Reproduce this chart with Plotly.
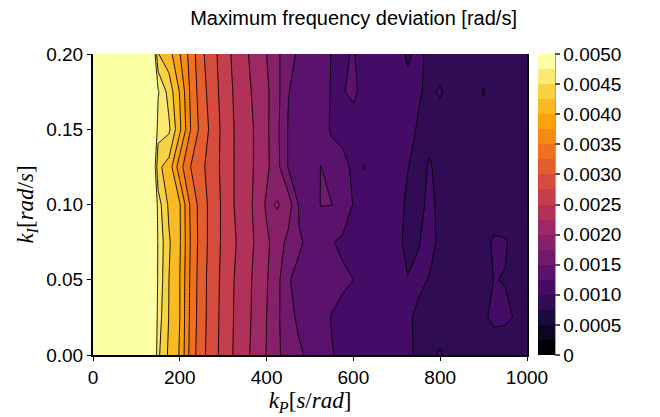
import plotly.graph_objects as go
from plotly.colors import sample_colorscale

# ---- data (values in units of 1e-5 rad/s) ----
UNIT = 1e-5
k_p = [25 * i for i in range(41)]          # 0 ... 1000 s/rad
k_i = [0.0, 0.025, 0.05, 0.075, 0.1, 0.125, 0.15, 0.175, 0.2]   # rad/s

left_cols = [1500, 1300, 1100, 950, 800]    # k_p = 0..100 (off scale, > 0.005)

row_000 = left_cols + [600, 455, 420, 398, 340, 308, 286, 266, 248, 232, 216, 199, 180, 162, 153, 146, 135, 126, 121, 118,
                       115, 111, 108, 105, 102, 98, 98, 101, 96, 94, 93, 93, 92, 92, 92, 92]
row_025 = left_cols + [620, 462, 424, 400, 343, 310, 287, 267, 249, 234, 218, 200, 180, 156, 146, 140, 132, 124, 120, 117,
                       114, 110, 107, 104, 101.5, 98, 97, 96, 94, 93, 95, 98, 103, 102, 99, 95]
row_050 = left_cols + [630, 468, 425, 400, 345, 310, 288, 268, 250, 235, 219, 202, 182, 151, 146, 141, 137, 133, 128, 125,
                       120, 114, 110, 105, 100.5, 102, 99.5, 97, 95, 94, 95, 97, 100.3, 99.5, 96, 93]
row_075 = left_cols + [640, 470, 428, 403, 348, 312, 290, 270, 253, 238, 222, 205, 187, 168, 152, 146, 140, 126, 122, 119,
                       116, 112, 108, 104, 96, 99.5, 103, 98, 95, 93, 94, 96, 102, 101, 96, 94]
row_100 = left_cols + [640, 462, 420, 402, 345, 312, 290, 270, 250, 235, 220, 196, 202, 188, 147, 142, 150.5, 150.5, 138, 124,
                       118, 114, 110, 106, 97, 96, 103, 97, 94, 92, 91, 90, 92, 91, 90, 89]
row_125 = left_cols + [600, 430, 415, 360, 325, 305, 288, 268, 250, 236, 222, 206, 182, 148, 141, 138, 150.5, 136, 130, 122,
                       125.5, 116, 112, 108, 100.5, 96, 101, 97, 95, 93, 92, 91, 91, 90, 90, 89]
row_150 = left_cols + [620, 462, 455, 405, 350, 315, 292, 268, 250, 236, 222, 205, 180, 148, 141, 138, 135, 122, 120, 118,
                       116, 113, 110, 106, 103, 99, 97, 95, 94, 93, 92, 92, 91, 91, 90, 90]
row_175 = left_cols + [600, 478, 440, 398, 345, 310, 288, 265, 248, 232, 220, 205, 182, 151, 140, 138, 136, 123, 124, 128,
                       120, 115, 112, 108, 104, 101, 98, 101, 95, 93, 92, 101, 92, 91, 90, 90]
row_200 = left_cols + [600, 426, 410, 376, 340, 305, 285, 262, 245, 230, 215, 200, 180, 158, 146, 140, 137, 124, 123, 126,
                       118, 114, 112, 106, 98, 103, 97, 95, 93, 92, 91, 91, 90, 90, 90, 89]

rows = [row_000, row_025, row_050, row_075, row_100, row_125, row_150, row_175, row_200]
z = [[v * UNIT for v in r] for r in rows]

# ---- levels and colours ----
LEVEL_STEP = 0.00025
Z_MAX = 0.005
N_BANDS = 20
band_colors = sample_colorscale("Inferno", [k / (N_BANDS - 1) for k in range(N_BANDS)])

# colourscale used by the contour fill (band k sampled at k/19)
contour_scale = []
for k, c in enumerate(band_colors):
    lo = max(0.0, (k - 0.5) / (N_BANDS - 1))
    hi = min(1.0, (k + 0.5) / (N_BANDS - 1))
    contour_scale += [[lo, c], [hi, c]]

# stepwise colourscale for the colourbar spanning 0 .. 0.005
bar_scale = []
for k, c in enumerate(band_colors):
    bar_scale += [[k / N_BANDS, c], [(k + 1) / N_BANDS, c]]

cb_ticks = [0.0005 * i for i in range(11)]
cb_text = ["0"] + ["%.4f" % t for t in cb_ticks[1:]]

FONT = "Liberation Sans, Arial, sans-serif"
SERIF = "Liberation Serif, DejaVu Serif, serif"
tick_font = dict(family=FONT, size=19, color="black")

PLOT_W = 434
CB_X = 1.025
CB_T = 17

fig = go.Figure()
fig.add_trace(go.Contour(
    x=k_p, y=k_i, z=z,
    colorscale=contour_scale,
    contours=dict(start=LEVEL_STEP, end=Z_MAX - LEVEL_STEP, size=LEVEL_STEP,
                  coloring="fill", showlines=True),
    line=dict(color="black", width=0.9, smoothing=0),
    showscale=False,
))
# colourbar carrier (point outside the visible range)
fig.add_trace(go.Scatter(
    x=[-500], y=[-1], mode="markers", showlegend=False, hoverinfo="skip",
    marker=dict(color=[0], cmin=0, cmax=Z_MAX, colorscale=bar_scale, showscale=True,
                colorbar=dict(x=CB_X, xanchor="left", xref="paper", thickness=CB_T, xpad=0, ypad=0,
                              len=1.0, lenmode="fraction", y=0.5, yanchor="middle", yref="paper",
                              outlinewidth=0, tickvals=cb_ticks, ticktext=cb_text,
                              ticks="outside", ticklen=5, tickcolor="#555", tickwidth=1.5,
                              tickfont=tick_font)),
))

fig.add_shape(type="line", xref="paper", yref="paper", x0=CB_X + CB_T / PLOT_W, x1=CB_X + CB_T / PLOT_W,
              y0=0, y1=1, line=dict(color="#666", width=1.5))

fig.update_layout(
    width=652, height=409,
    margin=dict(l=85, r=133, t=46, b=62),
    paper_bgcolor="white", plot_bgcolor="white",
    showlegend=False,
    title=dict(text="Maximum frequency deviation [rad/s]", x=0.53, xref="container", xanchor="center",
               y=0.975, yref="container", yanchor="middle",
               font=dict(family=FONT, size=20, color="black")),
    xaxis=dict(range=[0, 1000], tickvals=[0, 200, 400, 600, 800, 1000], showgrid=False, zeroline=False,
               showline=True, linecolor="black", linewidth=2, ticks="outside", ticklen=4, tickcolor="black",
               tickfont=tick_font,
               title=dict(text="<i>k</i><sub><i>P</i></sub>[<i>s</i>/<i>rad</i>]", standoff=2,
                          font=dict(family=SERIF, size=23, color="black"))),
    yaxis=dict(range=[0, 0.2], tickvals=[0, 0.05, 0.1, 0.15, 0.2], tickformat=".2f", showgrid=False, zeroline=False,
               showline=True, mirror=True, linecolor="black", linewidth=2, ticks="outside", ticklen=4,
               tickcolor="black", tickfont=tick_font,
               title=dict(text="<i>k</i><sub><i>I</i></sub>[<i>rad</i>/<i>s</i>]", standoff=6,
                          font=dict(family=SERIF, size=23, color="black"))),
)

fig.write_html("out.html")
